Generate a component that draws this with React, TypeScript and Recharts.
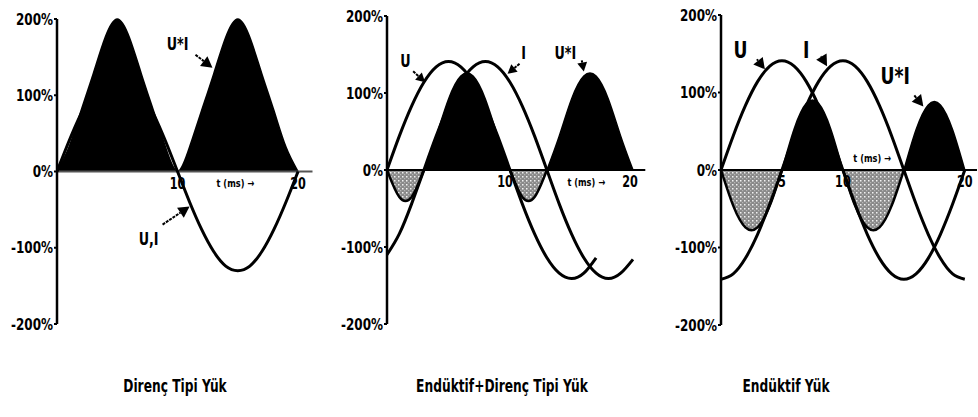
import React from 'react';
import { ComposedChart, Line, Area, XAxis, YAxis, ReferenceLine, ReferenceDot } from 'recharts';

const FONT = "'DejaVu Sans', 'Liberation Sans', sans-serif";
const SQUEEZE = 0.75;

// time in ms
const times = [0, 1, 2, 3, 4, 5, 6, 7, 8, 9, 10, 11, 12, 13, 14, 15, 16, 17, 18, 19, 20];
const yTicks = [-200, -100, 0, 100, 200];

// Panel 1 – Direnç Tipi Yük (U and I in phase)
const p1UI = [0, 40, 76, 105, 124, 130, 124, 105, 76, 40, 0, -40, -76, -105, -124, -130, -124, -105, -76, -40, 0];
const p1P = [0, 32, 80, 128, 176, 200, 176, 128, 80, 32, 0, 32, 80, 128, 176, 200, 176, 128, 80, 32, 0];

// Panel 2 – Endüktif+Direnç Tipi Yük
const p2U = [0, 44, 83, 114, 134, 141, 134, 114, 83, 44, 0, -44, -83, -114, -134, -141, -134, -114, null, null, null];
const p2I = [-110, -83, -44, 0, 44, 83, 114, 134, 141, 134, 114, 83, 44, 0, -44, -83, -114, -134, -141, -134, -116];
const p2P = [0, -35, -35, 0, 44, 92, 122, 122, 92, 44, 0, -35, -35, 0, 44, 92, 122, 122, 92, 44, 0];

// Panel 3 – Endüktif Yük
const p3U = [0, 44, 83, 114, 134, 141, 134, 114, 83, 44, 0, -44, -83, -114, -134, -141, -134, -114, -83, -44, 0];
const p3I = [-141, -134, -114, -83, -44, 0, 44, 83, 114, 134, 141, 134, 114, 83, 44, 0, -44, -83, -114, -134, -141];
const p3P = [0, -46, -74, -74, -46, 0, 53, 86, 86, 53, 0, -46, -74, -74, -46, 0, 52, 84, 84, 52, 0];

const titles = ['Direnç Tipi Yük', 'Endüktif+Direnç Tipi Yük', 'Endüktif Yük'];
const titleCenters = [175, 502, 786];

function buildRows(u: (number | null)[], i: (number | null)[] | null, p: number[]) {
  return times.map((t, k) => ({
    t,
    u: u[k],
    i: i ? i[k] : null,
    pos: p[k] >= 0 ? p[k] : null,
    neg: p[k] <= 0 ? p[k] : null,
  }));
}

const rows1 = buildRows(p1UI, null, p1P);
const rows2 = buildRows(p2U, p2I, p2P);
const rows3 = buildRows(p3U, p3I, p3P);

const textShape = (value: string, size = 14, dx = 0, dy = 0, sx = SQUEEZE) =>
  (p: any) => (
    <g transform={`translate(${p.cx + dx},${p.cy + dy + size * 0.36}) scale(${sx},1)`}>
      <text x={0} y={0} textAnchor="middle" fontSize={size}
        fontWeight={700} fontFamily={FONT} fill="#000">{value}</text>
    </g>
  );

const arrowShape = (ox: number, oy: number, head = 9) => (p: any) => {
  const { cx, cy } = p;
  const len = Math.hypot(ox, oy);
  const ux = -ox / len;
  const uy = -oy / len;
  const bx = cx - ux * head;
  const by = cy - uy * head;
  const nx = -uy;
  const ny = ux;
  const w = head * 0.55;
  return (
    <g>
      <line x1={cx + ox} y1={cy + oy} x2={bx} y2={by} stroke="#000" strokeWidth={2} strokeDasharray="3 1" />
      <polygon points={`${cx},${cy} ${bx + nx * w},${by + ny * w} ${bx - nx * w},${by - ny * w}`} fill="#000" />
    </g>
  );
};

const YTick = (props: any) => {
  const { x, y, payload } = props;
  return (
    <g transform={`translate(${x},${y + 5.5}) scale(${SQUEEZE},1)`}>
      <text x={0} y={0} textAnchor="end" fontSize={16} fontWeight={700} fontFamily={FONT} fill="#000">
        {`${payload.value}%`}
      </text>
    </g>
  );
};

type PanelProps = {
  id: string;
  left: number;
  width: number;
  yAxisWidth: number;
  top: number;
  bottom: number;
  right: number;
  xMax: number;
  rows: any[];
  withI: boolean;
  zeroColor: string;
  children?: React.ReactNode;
};

function Panel({ id, left, width, yAxisWidth, top, bottom, right, xMax, rows, withI, zeroColor, children }: PanelProps) {
  return (
    <div style={{ position: 'absolute', left, top: 0 }}>
      <ComposedChart width={width} height={340} data={rows} margin={{ top, bottom, right, left: 0 }}>
        <defs>
          <pattern id={`hatch-${id}`} width="4" height="4" patternUnits="userSpaceOnUse">
            <rect width="4" height="4" fill="#8a8a8a" />
            <rect x="0" y="0" width="1.5" height="1.5" fill="#f2f2f2" />
            <rect x="2.2" y="2.2" width="1" height="1" fill="#d0d0d0" />
          </pattern>
        </defs>
        <XAxis dataKey="t" type="number" domain={[0, xMax]} hide allowDataOverflow />
        <YAxis type="number" domain={[-200, 200]} ticks={yTicks} width={yAxisWidth} interval={0}
          axisLine={{ stroke: '#000', strokeWidth: 2.5 }}
          tickLine={{ stroke: '#000', strokeWidth: 2 }} tickSize={3} tickMargin={1}
          tick={<YTick />} />
        <ReferenceLine y={0} stroke={zeroColor} strokeWidth={2} />
        <Area dataKey="pos" type="natural" stroke="#000" strokeWidth={1.5} fill="#000" fillOpacity={1}
          isAnimationActive={false} dot={false} activeDot={false} connectNulls={false} />
        <Area dataKey="neg" type="natural" stroke="#000" strokeWidth={2.5} fill={`url(#hatch-${id})`} fillOpacity={1}
          isAnimationActive={false} dot={false} activeDot={false} connectNulls={false} />
        <Line dataKey="u" type="natural" stroke="#000" strokeWidth={3} dot={false} activeDot={false}
          isAnimationActive={false} connectNulls={false} />
        {withI && (
          <Line dataKey="i" type="natural" stroke="#000" strokeWidth={3} dot={false} activeDot={false}
            isAnimationActive={false} connectNulls={false} />
        )}
        {children}
      </ComposedChart>
    </div>
  );
}

export default function App() {
  return (
    <div style={{ position: 'absolute', left: 0, top: 0, width: 978, height: 417, background: '#fff', overflow: 'hidden' }}>
      <Panel id="a" left={0} width={330} yAxisWidth={57} top={19} bottom={16} right={17.5} xMax={21.2}
        rows={rows1} withI={false} zeroColor="#555">
        <ReferenceDot x={10} y={0} r={0} shape={textShape('10', 15, 0, 12)} />
        <ReferenceDot x={14.8} y={0} r={0} shape={textShape('t (ms) →', 11, 0, 12)} />
        <ReferenceDot x={20} y={0} r={0} shape={textShape('20', 15, 0, 12)} />
        <ReferenceDot x={10} y={167} r={0} shape={textShape('U*I', 17)} />
        <ReferenceDot x={12.9} y={136} r={0} shape={arrowShape(-17, -13, 11)} />
        <ReferenceDot x={7.6} y={-89} r={0} shape={textShape('U,I', 17)} />
        <ReferenceDot x={11} y={-46} r={0} shape={arrowShape(-27, 18, 11)} />
      </Panel>
      <Panel id="b" left={330} width={330} yAxisWidth={57} top={16} bottom={16} right={14.7} xMax={21}
        rows={rows2} withI={true} zeroColor="#000">
        <ReferenceDot x={10} y={0} r={0} shape={textShape('10', 15, -5, 12)} />
        <ReferenceDot x={16.2} y={0} r={0} shape={textShape('t (ms) →', 11, 0, 12)} />
        <ReferenceDot x={20} y={0} r={0} shape={textShape('20', 15, -3, 12)} />
        <ReferenceDot x={1.5} y={142} r={0} shape={textShape('U', 17)} />
        <ReferenceDot x={3.1} y={114} r={0} shape={arrowShape(-12, -11, 9)} />
        <ReferenceDot x={11.1} y={152} r={0} shape={textShape('I', 17)} />
        <ReferenceDot x={9.8} y={125} r={0} shape={arrowShape(12, -10, 9)} />
        <ReferenceDot x={14.5} y={152} r={0} shape={textShape('U*I', 17)} />
        <ReferenceDot x={16} y={128} r={0} shape={arrowShape(-2, -11, 9)} />
      </Panel>
      <Panel id="c" left={660} width={318} yAxisWidth={61} top={15} bottom={15} right={1} xMax={21}
        rows={rows3} withI={true} zeroColor="#000">
        <ReferenceDot x={5} y={0} r={0} shape={textShape('5', 15, 0, 12)} />
        <ReferenceDot x={10} y={0} r={0} shape={textShape('10', 15, 0, 12)} />
        <ReferenceDot x={20} y={0} r={0} shape={textShape('20', 15, 0, 12)} />
        <ReferenceDot x={12.4} y={0} r={0} shape={textShape('t (ms) →', 11, 0, -12)} />
        <ReferenceDot x={1.6} y={155} r={0} shape={textShape('U', 23)} />
        <ReferenceDot x={3.6} y={130} r={0} shape={arrowShape(-8, -10, 11)} />
        <ReferenceDot x={7.0} y={155} r={0} shape={textShape('I', 23)} />
        <ReferenceDot x={8.7} y={134} r={0} shape={arrowShape(-6, -10, 11)} />
        <ReferenceDot x={14.3} y={122} r={0} shape={textShape('U*I', 23)} />
        <ReferenceDot x={16.6} y={82} r={0} shape={arrowShape(-9, -11, 11)} />
      </Panel>
      {titles.map((title, k) => (
        <div key={title} style={{
          position: 'absolute', top: 375, left: titleCenters[k] - 150, width: 300, textAlign: 'center',
          fontFamily: FONT, fontWeight: 700, fontSize: 18, color: '#000', whiteSpace: 'nowrap',
          transform: 'scaleX(0.68)', transformOrigin: 'center',
        }}>{title}</div>
      ))}
    </div>
  );
}
